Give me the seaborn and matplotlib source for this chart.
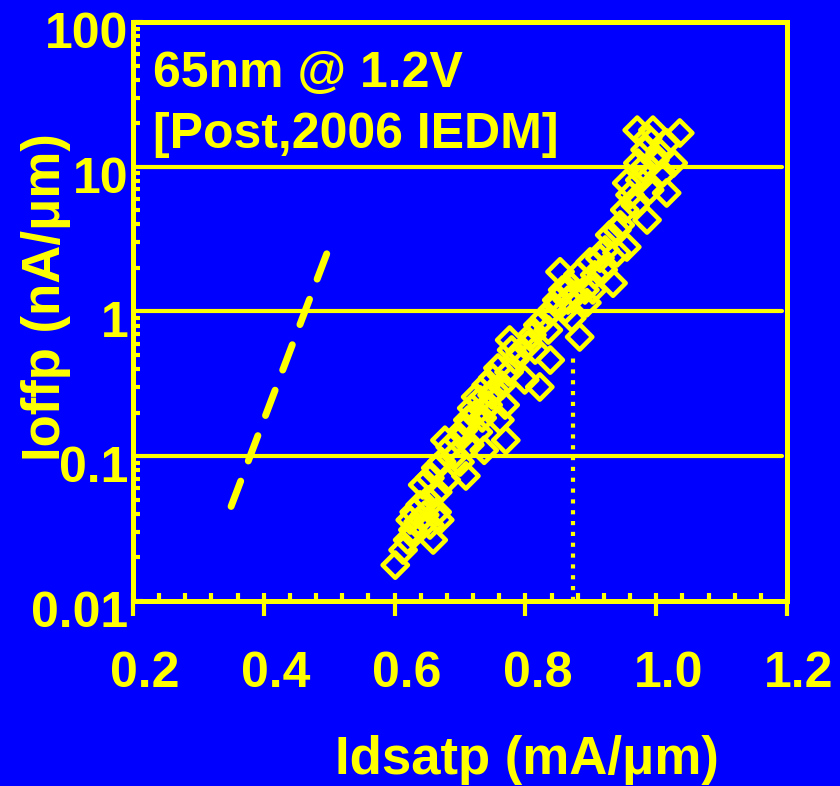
import matplotlib
matplotlib.use("Agg")
import matplotlib.pyplot as plt
import matplotlib.transforms as mtransforms
from matplotlib.ticker import FixedLocator, MultipleLocator, LogLocator, NullFormatter
import seaborn as sns

# Measured device population: saturation current vs. off-state leakage (PMOS)
idsat = [0.601, 0.613, 0.620, 0.628, 0.636, 0.646, 0.654, 0.659, 0.665, 0.639,
         0.630, 0.651, 0.643, 0.654, 0.663, 0.672, 0.666, 0.679, 0.685, 0.692,
         0.709, 0.697, 0.705, 0.712, 0.718, 0.724, 0.715, 0.728, 0.737, 0.734,
         0.743, 0.740, 0.750, 0.749, 0.758, 0.770, 0.761, 0.769, 0.764, 0.776,
         0.775, 0.784, 0.792, 0.799, 0.804, 0.810, 0.822, 0.819, 0.830, 0.838,
         0.841, 0.848, 0.853, 0.857, 0.865, 0.871, 0.883, 0.868, 0.880, 0.891,
         0.894, 0.899, 0.906, 0.914, 0.934, 0.922, 0.929, 0.940, 0.945, 0.955,
         0.952, 0.960, 0.955, 0.968, 0.975, 0.986, 0.980, 0.990, 0.972, 0.998,
         1.006, 1.016, 1.010, 1.026, 1.016, 0.971, 0.987, 0.995, 1.036, 0.983,
         0.940, 0.723, 0.731, 0.753, 0.779, 0.815, 0.835, 0.861, 0.876, 0.903,
         0.919, 0.677, 0.700, 0.624, 0.669]
ioff = [0.0177, 0.0225, 0.0264, 0.0310, 0.0352, 0.0393, 0.0335, 0.0264, 0.0412, 0.0461,
        0.0412, 0.0499, 0.0634, 0.0708, 0.0830, 0.0912, 0.0566, 0.0686, 0.116, 0.102,
        0.0731, 0.129, 0.152, 0.178, 0.215, 0.257, 0.120, 0.147, 0.110, 0.184,
        0.226, 0.310, 0.348, 0.265, 0.407, 0.129, 0.178, 0.226, 0.310, 0.635,
        0.382, 0.462, 0.525, 0.337, 0.587, 0.689, 0.301, 0.807, 0.902, 0.462,
        1.03, 1.20, 1.88, 1.41, 1.20, 0.902, 0.667, 1.52, 1.79, 1.41,
        1.15, 2.20, 1.79, 2.34, 1.57, 2.66, 3.38, 2.54, 3.96, 2.79,
        5.03, 6.38, 7.72, 5.44, 8.10, 4.29, 9.80, 6.91, 10.6, 11.1,
        12.4, 6.59, 9.06, 10.6, 14.6, 17.9, 15.8, 17.9, 17.1, 13.1,
        3.66, 0.193, 0.245, 0.287, 0.542, 0.542, 0.745, 1.03, 1.30, 1.41,
        1.94, 0.129, 0.0912, 0.0363, 0.0363]

# Trend line of the earlier generation (dashed)
trend_idsat = [0.350, 0.504]
trend_ioff = [0.045, 3.1]

# Reference current marked by the dotted drop line
ref_idsat = 0.873
ref_ioff = 0.5

x_ticks = [0.2, 0.4, 0.6, 0.8, 1.0, 1.2]
x_labels = ["0.2", "0.4", "0.6", "0.8", "1.0", "1.2"]
y_ticks = [0.01, 0.1, 1, 10, 100]
y_labels = ["0.01", "0.1", "1", "10", "100"]
grid_levels = [0.1, 1, 10]

BLUE = "#0000FF"
YELLOW = "#FFFF00"

sns.set_style("ticks")
plt.rcParams["font.family"] = ["Liberation Sans", "DejaVu Sans"]
plt.rcParams["font.weight"] = "bold"

fig = plt.figure(figsize=(8.4, 7.86), dpi=100, facecolor=BLUE)
ax = fig.add_axes([0.15833, 0.23537, 0.77857, 0.73664])
ax.set_facecolor(BLUE)

ax.set_yscale("log")
ax.set_xlim(0.2, 1.2)
ax.set_ylim(0.01, 100)

for lvl in grid_levels:
    ax.axhline(lvl, xmin=0.015, xmax=0.992, color=YELLOW, lw=3.0, zorder=1)

sns.lineplot(x=trend_idsat, y=trend_ioff, ax=ax, color=YELLOW, lw=5,
             linestyle=(0, (3.9, 3.1)), dash_capstyle="round", zorder=2,
             estimator=None, sort=False)

ax.vlines(ref_idsat, 0.01, ref_ioff, colors=YELLOW, lw=3.0,
          linestyles=[(0, (1, 1.6))], zorder=2)

sns.scatterplot(x=idsat, y=ioff, ax=ax, marker="D", s=165, color=YELLOW,
                facecolor="none", edgecolor=YELLOW, linewidth=3.3, zorder=3)
for coll in ax.collections:
    if hasattr(coll, "set_joinstyle"):
        coll.set_joinstyle("round")

for side in ["left", "right", "top", "bottom"]:
    ax.spines[side].set_color(YELLOW)
    ax.spines[side].set_linewidth(3.6)
    ax.spines[side].set_visible(True)

ax.xaxis.set_major_locator(FixedLocator(x_ticks))
ax.set_xticklabels(x_labels)
ax.xaxis.set_minor_locator(MultipleLocator(0.04))
ax.xaxis.remove_overlapping_locs = False
ax.yaxis.set_major_locator(FixedLocator(y_ticks))
ax.set_yticklabels(y_labels)
ax.yaxis.set_minor_locator(LogLocator(base=10, subs=[2, 3, 4, 5, 6, 7, 8, 9]))
ax.yaxis.set_minor_formatter(NullFormatter())

ax.tick_params(axis="x", which="major", direction="out", length=10.8, width=3.0,
               pad=25, labelsize=36, colors=YELLOW)
ax.tick_params(axis="x", which="minor", direction="in", length=5.8, width=3.0,
               colors=YELLOW)
ax.tick_params(axis="y", which="major", direction="in", length=7.2, width=3.0,
               pad=3.5, labelsize=36, colors=YELLOW)
ax.tick_params(axis="y", which="minor", direction="in", length=5.0, width=3.0,
               colors=YELLOW)
ax.tick_params(top=False, right=False, which="both")

ax.set_xlabel("Idsatp (mA/μm)", fontsize=38, fontweight="bold", color=YELLOW)
ax.set_ylabel("Ioffp (nA/μm)", fontsize=38, fontweight="bold", color=YELLOW)
ax.xaxis.set_label_coords(0.602, -0.231)
ax.yaxis.set_label_coords(-0.095, 0.525)

ax.text(0.031, 0.8877, "65nm @ 1.2V", transform=ax.transAxes, va="baseline",
        ha="left", fontsize=36, fontweight="bold", color=YELLOW, zorder=4)
ax.text(0.031, 0.7824, "[Post,2006 IEDM]", transform=ax.transAxes, va="baseline",
        ha="left", fontsize=36, fontweight="bold", color=YELLOW, zorder=4)

fig.canvas.draw()
x_shift = mtransforms.ScaledTranslation(0.12, 0, fig.dpi_scale_trans)
y_shift = mtransforms.ScaledTranslation(0, -0.08, fig.dpi_scale_trans)
for lab in ax.get_xticklabels():
    lab.set_transform(lab.get_transform() + x_shift)
for lab in ax.get_yticklabels():
    lab.set_transform(lab.get_transform() + y_shift)

fig.savefig("out.png", dpi=100, facecolor=BLUE)
